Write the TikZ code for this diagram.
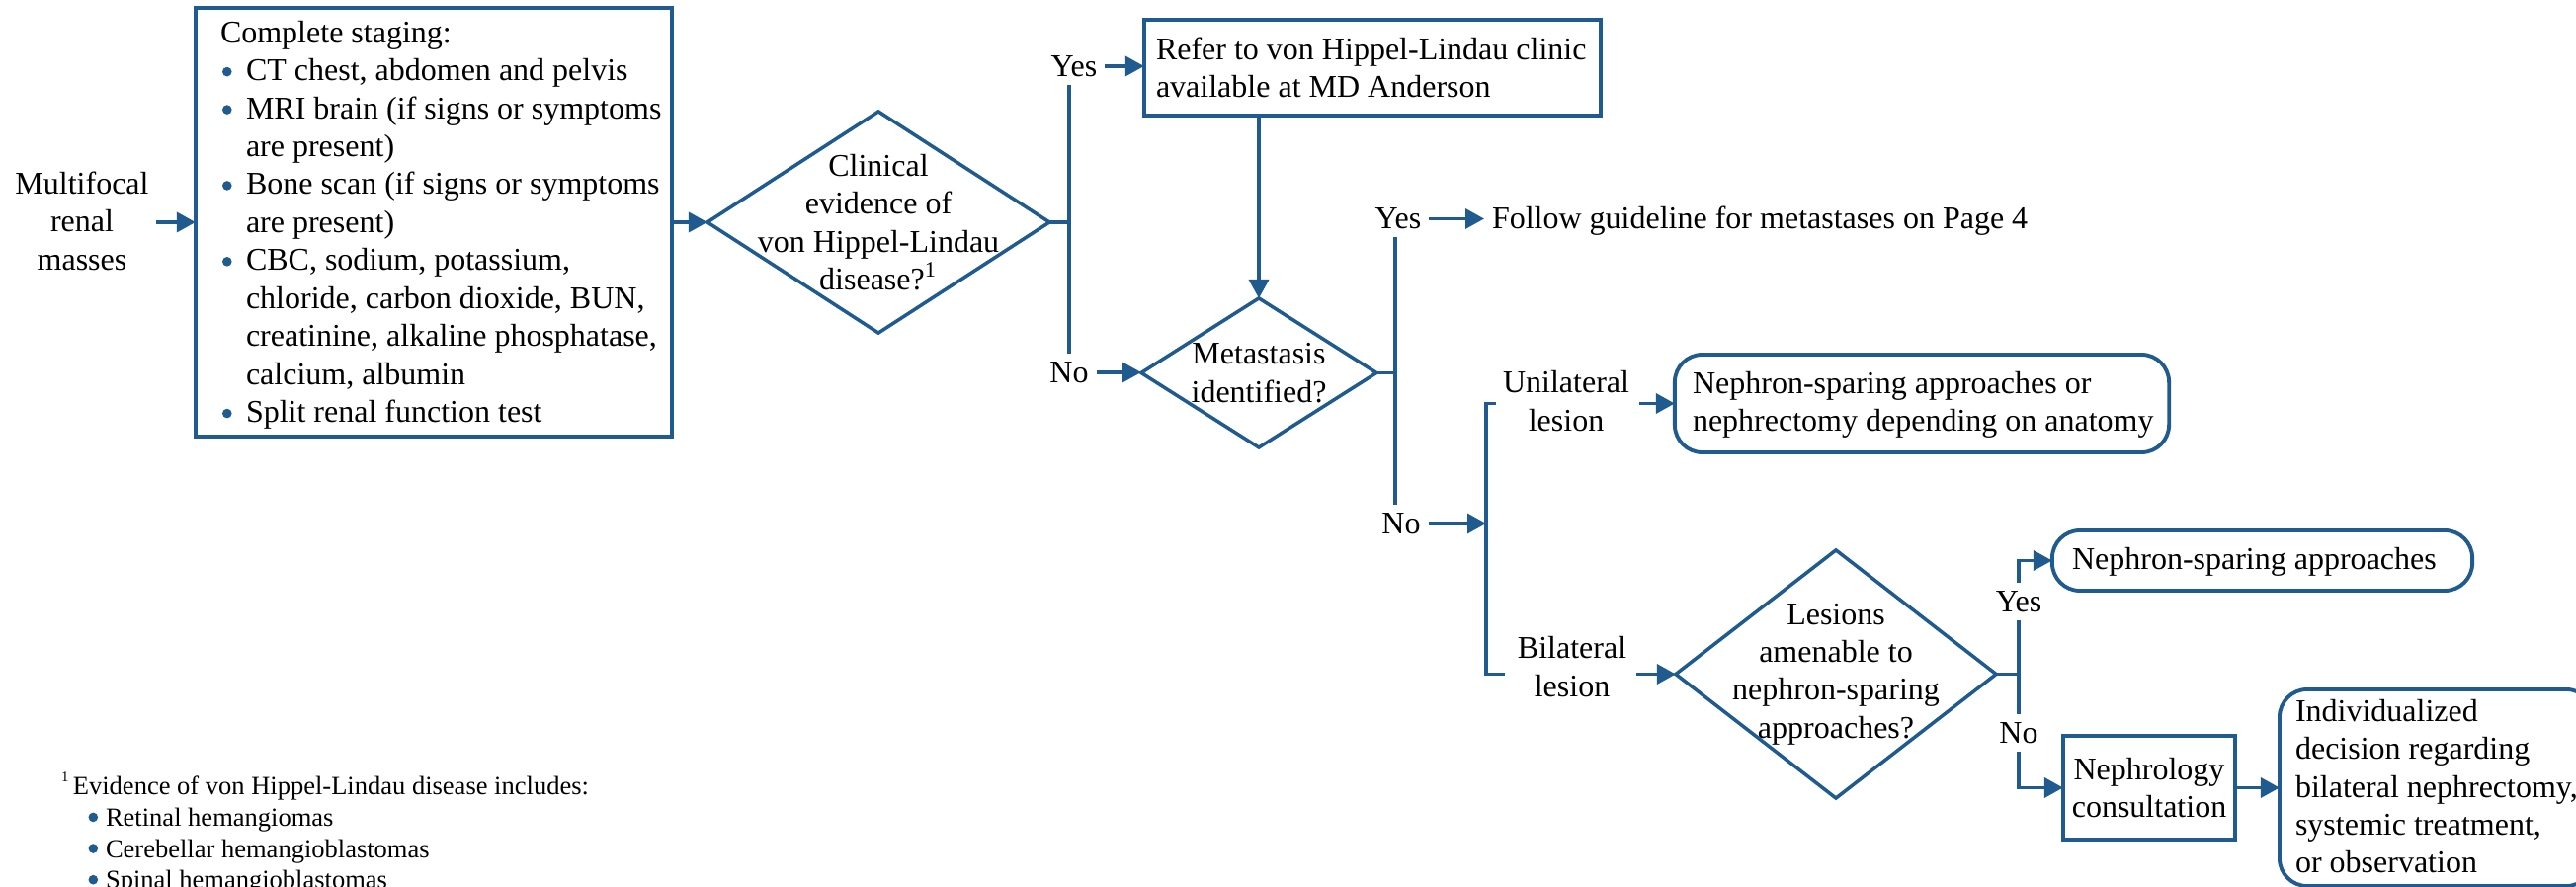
\documentclass[tikz,border=0pt]{standalone}
\usepackage{fontspec}
\setmainfont{Liberation Serif}
\usetikzlibrary{arrows.meta,calc}
\definecolor{mdblue}{RGB}{31,91,142}
% round blue bullet dot
\newcommand{\dotmark}{\tikz[x=1cm,y=1cm,baseline=0pt]{\fill[mdblue] (0,0.09) circle[radius=0.048];}}
% bullet with a fixed-width slot, and the matching hanging indent
\newcommand{\bul}{\makebox[0.26cm][l]{\hspace{0.02cm}\dotmark}}
\newcommand{\hang}{\hspace*{0.26cm}}
\newcommand{\fbul}{\hspace*{0.275cm}\makebox[0.175cm][l]{\dotmark}}
\begin{document}
\begin{tikzpicture}[x=0.01cm,y=-0.01cm,
  font=\fontsize{9.1pt}{10.93pt}\selectfont,
  every node/.style={outer sep=0pt},
  line/.style={draw=mdblue, line width=1pt},
  arr/.style={line, -{Triangle[length=0.19cm,width=0.2cm]}},
  box/.style={draw=mdblue, line width=1.1pt, fill=white, inner sep=0pt},
  rbox/.style={box, rounded corners=0.28cm},
  txt/.style={align=left, inner sep=0pt},
  dia/.style={inner sep=0pt, align=center},
  lbl/.style={inner sep=0.08cm, align=center},
]
\clip (0,0) rectangle (2607,898);
\fill[white] (0,0) rectangle (2607,898);

% ---- entry and staging ----
\node[lbl, inner sep=0.075cm] (src) at (83,223.5) {Multifocal\\renal\\masses};
\node[box, minimum width=4.82cm, minimum height=4.34cm] (stage) at (439,225) {};
\node[txt, anchor=north west] (stagetxt) at (223,21) {Complete staging:\\
\bul CT chest, abdomen and pelvis\\
\bul MRI brain (if signs or symptoms\\
\hang are present)\\
\bul Bone scan (if signs or symptoms\\
\hang are present)\\
\bul CBC, sodium, potassium,\\
\hang chloride, carbon dioxide, BUN,\\
\hang creatinine, alkaline phosphatase,\\
\hang calcium, albumin\\
\bul Split renal function test};
\draw[arr] (src.east |- stage.west) -- (stage.west);

% ---- first decision ----
\node[dia, minimum width=3.46cm, minimum height=2.24cm] (d1) at (889,225)
  {Clinical\\evidence of\\von Hippel-Lindau\\disease?\textsuperscript{1}};
\draw[line] (d1.west) -- (d1.north) -- (d1.east) -- (d1.south) -- cycle;
\draw[arr] (stage.east) -- (d1.west);

\coordinate (j1) at (1082,225);
\node[lbl] (yes1) at (1087,67) {Yes};
\node[lbl] (no1) at (1082,377) {No};
\draw[line] (d1.east) -- (j1);
\draw[line] (j1 |- yes1.south) -- (j1 |- no1.north);

\node[box, minimum width=4.62cm, minimum height=0.97cm] (refer) at (1389,68.5) {};
\node[txt, anchor=north west] (refertxt) at (1170,38) {Refer to von Hippel-Lindau clinic\\available at MD Anderson};
\draw[arr] (yes1.east) -- (yes1.east -| refer.west);

% ---- metastasis decision ----
\node[dia, minimum width=2.38cm, minimum height=1.51cm] (d2) at (1274,377.5) {Metastasis\\identified?};
\draw[line] (d2.west) -- (d2.north) -- (d2.east) -- (d2.south) -- cycle;
\draw[arr] (no1.east) -- (no1.east -| d2.west);
\draw[arr] (refer.south -| d2.north) -- (d2.north);

\coordinate (j2) at (1412,377.5);
\node[lbl] (yes2) at (1415,221.5) {Yes};
\node[lbl] (no2) at (1418,530) {No};
\draw[line] (d2.east) -- (j2);
\draw[line] (j2 |- yes2.south) -- (j2 |- no2.north);
\node[anchor=base west, inner sep=0.08cm] (follow) at (1502,232) {Follow guideline for metastases on Page 4};
\draw[arr] (yes2.east) -- (yes2.east -| follow.west);

% ---- lesion bracket ----
\coordinate (brtop) at (1504,408.5);
\coordinate (brbot) at (1504,682.5);
\draw[line] ([xshift=0.1cm]brtop) -- (brtop) -- (brbot) -- ([xshift=0.19cm]brbot);
\draw[arr] (no2.east) -- (no2.east -| brtop);

\node[lbl, inner sep=0.1cm] (unilbl) at (1585,406) {Unilateral\\lesion};
\node[rbox, minimum width=5cm, minimum height=0.99cm] (uni) at (1945,408.5) {};
\node[txt, anchor=north west] (unitxt) at (1713,376) {Nephron-sparing approaches or\\nephrectomy depending on anatomy};
\draw[arr] (unilbl.east |- uni.west) -- (uni.west);

\node[lbl, inner sep=0.1cm] (bilbl) at (1591,675) {Bilateral\\lesion};
\node[dia, minimum width=3.24cm, minimum height=2.51cm] (d3) at (1858,682.5)
  {Lesions\\amenable to\\nephron-sparing\\approaches?};
\draw[line] (d3.west) -- (d3.north) -- (d3.east) -- (d3.south) -- cycle;
\draw[arr] (bilbl.east |- d3.west) -- (d3.west);

% ---- bilateral outcomes ----
\coordinate (j3) at (2043,682.5);
\coordinate (t3) at (2043,567.5);
\coordinate (b3) at (2043,797.5);
\node[lbl] (yes3) at (2043,609) {Yes};
\node[lbl] (no3) at (2043,742) {No};
\draw[line] (d3.east) -- (j3);
\draw[line] (j3 |- yes3.south) -- (j3 |- no3.north);

\node[rbox, minimum width=4.25cm, minimum height=0.61cm] (ns) at (2289.5,567.5) {};
\node[anchor=base west, inner sep=0pt] (nstxt) at (2097,577) {Nephron-sparing approaches};
\draw[arr] (yes3.north) -- (t3) -- (ns.west);

\node[box, minimum width=1.74cm, minimum height=1.05cm, align=center] (neph) at (2175,797.5) {Nephrology\\consultation};
\draw[arr] (no3.south) -- (b3) -- (neph.west);

\node[rbox, minimum width=3.18cm, minimum height=1.99cm] (ind) at (2466,797.5) {};
\node[txt, anchor=north west] (indtxt) at (2323,708) {Individualized\\decision regarding\\bilateral nephrectomy,\\systemic treatment,\\or observation};
\draw[arr] (neph.east) -- (ind.west);

% ---- footnote ----
\node[txt, anchor=north west, font=\fontsize{7.54pt}{9.0pt}\selectfont] (fn) at (62,782)
  {\raisebox{0.13cm}{\fontsize{4.2pt}{5pt}\selectfont 1}\hspace{0.045cm}Evidence of von Hippel-Lindau disease includes:\\
   \fbul Retinal hemangiomas\\
   \fbul Cerebellar hemangioblastomas\\
   \fbul Spinal hemangioblastomas};
\end{tikzpicture}
\end{document}
